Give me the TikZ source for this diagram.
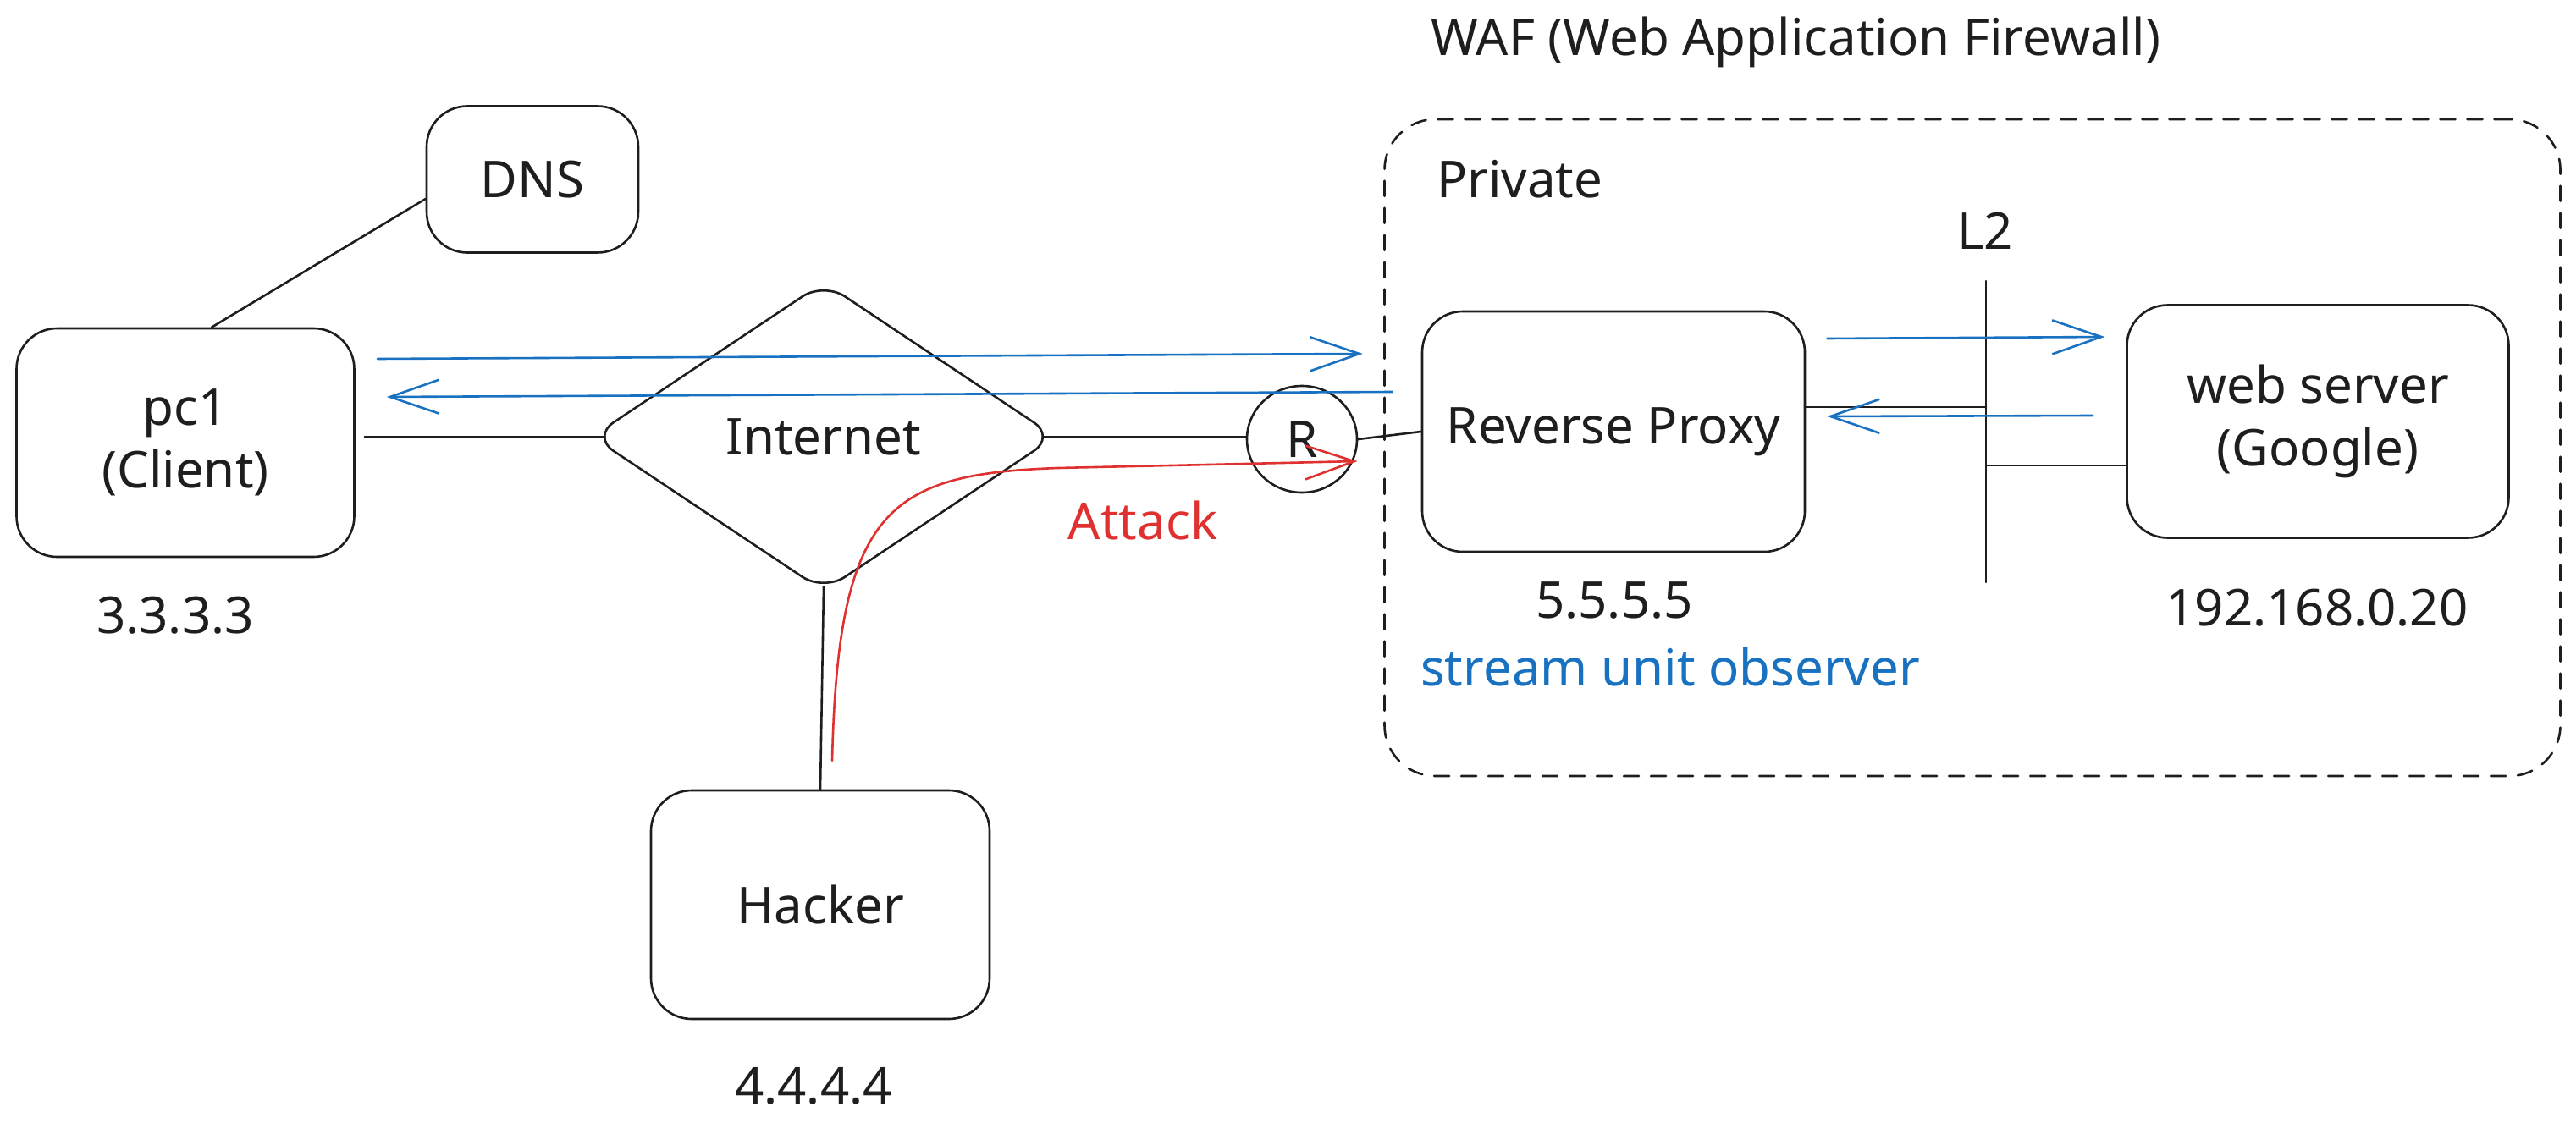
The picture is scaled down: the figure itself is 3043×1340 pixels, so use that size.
\documentclass[tikz,border=0pt]{standalone}
\usepackage{fontspec}
\setmainfont{Noto Sans}
\usetikzlibrary{shapes.geometric,arrows.meta,calc}
\definecolor{ink}{HTML}{1E1E1E}
\definecolor{eblue}{HTML}{1971C2}
\definecolor{ered}{HTML}{E03131}
\begin{document}
\begin{tikzpicture}[x=1pt,y=-1pt,line cap=round,line join=round,
  txt/.style={font=\fontsize{60}{74}\selectfont,text=ink,inner sep=0pt},
  box/.style={txt,draw=ink,line width=2.6pt,rounded corners=48pt,align=center},
  wire/.style={draw=ink,line width=2.6pt},
  flow/.style={draw=eblue,line width=2.6pt,-{Straight Barb[length=58pt,width=40pt]}},
  attack/.style={draw=ered,line width=2.6pt,-{Straight Barb[length=58pt,width=40pt]}}]
\useasboundingbox[fill=white] (0,0) rectangle (3043,1340);
% region
\node[draw=ink,line width=2.6pt,dash pattern=on 18pt off 14pt,rounded corners=60pt,
      minimum width=1389pt,minimum height=776pt] (waf) at (2330,529) {};
% nodes
\node[box,minimum width=250pt,minimum height=173pt] (dns) at (629,212) {DNS};
\node[box,minimum width=399pt,minimum height=270pt] (pc1) at (219,523) {pc1\\(Client)};
\node[txt,diamond,draw=ink,line width=2.6pt,rounded corners=30pt,
      minimum width=548pt,minimum height=366pt] (inet) at (973,516) {Internet};
\node[txt,ellipse,draw=ink,line width=2.6pt,minimum width=130pt,minimum height=126pt] (R) at (1538,519) {R};
\node[box,minimum width=452pt,minimum height=284pt] (rp) at (1906,510) {Reverse Proxy};
\node[box,minimum width=451pt,minimum height=275pt] (web) at (2738,498) {web server\\(Google)};
\node[box,minimum width=400pt,minimum height=270pt] (hacker) at (969,1069) {Hacker};
% labels
\node[txt,anchor=west] (waflbl) at (1690,50) {WAF (Web Application Firewall)};
\node[txt,anchor=west] (priv) at (1697,212) {Private};
\node[txt] (l2lbl) at (2345,273) {L2};
\node[txt] (ip1) at (207,727) {3.3.3.3};
\node[txt] (ip2) at (961,1283) {4.4.4.4};
\node[txt] (ip3) at (1907,709) {5.5.5.5};
\node[txt] (ip4) at (2737,718) {192.168.0.20};
\node[txt,text=eblue,anchor=west] (obs) at (1678,788) {stream unit observer};
\node[txt,text=ered] (atk) at (1350,615) {Attack};
\coordinate (l2top) at (2346,332);
\coordinate (l2bot) at (2346,688);
% wires
\draw[wire] ([yshift=-23pt]dns.west) -- ([xshift=31pt]pc1.north);
\draw[wire] ([xshift=11pt]pc1.east |- inet.west) -- ([xshift=17pt]inet.west);
\draw[wire] ([xshift=-17pt]inet.east) -- (inet.east -| R.west);
\draw[wire] (R.east) -- (rp.west);
\draw[wire] ([yshift=7pt]inet.south) -- (hacker.north);
\draw[wire] (l2top) -- (l2bot);
\draw[wire] ([yshift=29pt]rp.east) -- ([yshift=29pt]rp.east -| l2top);
\draw[wire] ([yshift=-52pt]web.west) -- ([yshift=-52pt]web.west -| l2top);
% flows
\draw[flow] ([xshift=26pt,yshift=99pt]pc1.east) -- ([xshift=-69pt,yshift=92pt]rp.west);
\draw[flow] ([xshift=-34pt,yshift=47pt]rp.west) -- ([xshift=37pt,yshift=54pt]pc1.east);
\draw[flow] ([xshift=25pt,yshift=110pt]rp.east) -- ([xshift=-25pt,yshift=100pt]web.west);
\draw[flow] ([xshift=-39pt,yshift=7pt]web.west) -- ([xshift=25pt,yshift=18pt]rp.east);
% attack
\draw[attack] ([xshift=14pt,yshift=34pt]hacker.north) .. controls (990,600) and (1050,560) .. (1250,553) -- ([xshift=-75pt,yshift=-35pt]rp.west);
\end{tikzpicture}
\end{document}
